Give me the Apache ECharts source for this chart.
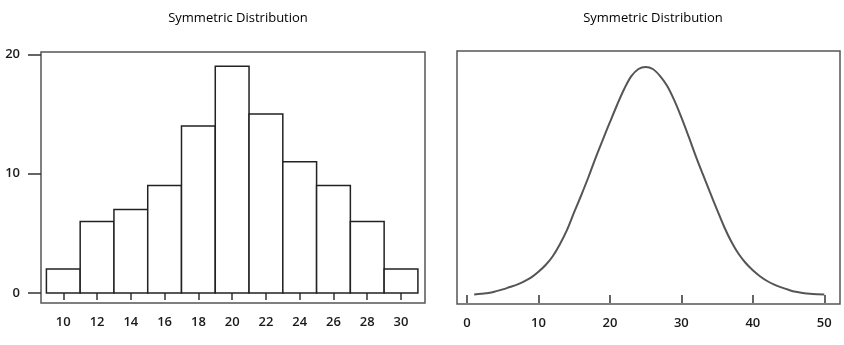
<!DOCTYPE html>
<html>
<head>
<meta charset="utf-8">
<script src="https://cdn.jsdelivr.net/npm/echarts@6/dist/echarts.min.js"></script>
<style>
html,body{margin:0;padding:0;background:#fff;}
#chart{width:844px;height:345px;}
</style>
</head>
<body>
<div id="chart"></div>
<script>
// ---- Data ----
const chartTitle = "Symmetric Distribution";
// Histogram (left)
const binCenters = [10, 12, 14, 16, 18, 20, 22, 24, 26, 28, 30];
const binCounts  = [2, 6, 7, 9, 14, 19, 15, 11, 9, 6, 2];
const binWidth = 2;
const histXTicks = [10, 12, 14, 16, 18, 20, 22, 24, 26, 28, 30];
const histYTicks = [0, 10, 20];
// Density curve (right)
const curveX = [1,2,3,4,5,6,7,8,9,10,11,12,13,14,15,16,17,18,19,20,21,22,23,24,25,
                26,27,28,29,30,31,32,33,34,35,36,37,38,39,40,41,42,43,44,45,46,47,48,49,50];
const curveY = [0.0001,0.0003,0.0005,0.0009,0.0014,0.0020,0.0026,0.0034,0.0044,0.0058,
                0.0075,0.0097,0.0127,0.0163,0.0207,0.0250,0.0295,0.0343,0.0388,0.0432,
                0.0475,0.0515,0.0547,0.0565,0.0570,0.0565,0.0548,0.0523,0.0487,0.0444,
                0.0397,0.0348,0.0302,0.0257,0.0213,0.0170,0.0133,0.0103,0.0080,0.0062,
                0.0047,0.0035,0.0026,0.0019,0.0013,0.0008,0.0005,0.0003,0.0002,0.00015];
const curveXTicks = [0, 10, 20, 30, 40, 50];

const chart = echarts.init(document.getElementById('chart'), null, {renderer: 'canvas'});
const labelFont = {fontFamily: 'Open Sans', fontSize: 13, fontWeight: 600, color: '#1a1a1a'};
const tickStyle = {color: '#333', width: 1.5};
const titleFont = {fontFamily: 'Open Sans', fontSize: 13, fontWeight: 'normal', color: '#000'};

chart.setOption({
  animation: false,
  backgroundColor: '#fff',
  title: [
    {text: chartTitle, left: 233, top: 7, textAlign: 'center', textStyle: titleFont},
    {text: chartTitle, left: 648, top: 7, textAlign: 'center', textStyle: titleFont}
  ],
  grid: [
    {left: 41, top: 52, width: 384, height: 251, show: true, borderColor: '#555', borderWidth: 1.5, backgroundColor: 'transparent'},
    {left: 457, top: 51, width: 383, height: 253, show: true, borderColor: '#555', borderWidth: 1.5, backgroundColor: 'transparent'}
  ],
  xAxis: [
    {gridIndex: 0, type: 'value', min: 8.68, max: 31.42,
     axisLine: {show: false}, splitLine: {show: false},
     axisTick: {show: true, length: 7, lineStyle: tickStyle, customValues: histXTicks},
     axisLabel: Object.assign({margin: 13, customValues: histXTicks}, labelFont)},
    {gridIndex: 1, type: 'value', min: -1.4, max: 52.2,
     axisLine: {show: false}, splitLine: {show: false},
     axisTick: {show: true, length: 8, lineStyle: tickStyle, customValues: curveXTicks},
     axisLabel: Object.assign({margin: 13, customValues: curveXTicks}, labelFont)}
  ],
  yAxis: [
    {gridIndex: 0, type: 'value', min: -0.84, max: 20.2,
     axisLine: {show: false}, splitLine: {show: false},
     axisTick: {show: true, length: 13, lineStyle: tickStyle, customValues: histYTicks},
     axisLabel: Object.assign({margin: 21, customValues: histYTicks}, labelFont)},
    {gridIndex: 1, type: 'value', min: -0.00225, max: 0.061, show: false,
     splitLine: {show: false}}
  ],
  series: [
    {type: 'custom', xAxisIndex: 0, yAxisIndex: 0,
     data: binCenters.map((c, i) => [c, binCounts[i]]),
     renderItem: function (params, api) {
       const c = api.value(0), v = api.value(1);
       const p0 = api.coord([c - binWidth / 2, v]);
       const p1 = api.coord([c + binWidth / 2, 0]);
       return {type: 'rect',
         shape: {x: p0[0], y: p0[1], width: p1[0] - p0[0], height: p1[1] - p0[1]},
         style: {fill: '#fff', stroke: '#222', lineWidth: 1.5}};
     }},
    {type: 'line', xAxisIndex: 1, yAxisIndex: 1, smooth: 0.35, showSymbol: false,
     data: curveX.map((x, i) => [x, curveY[i]]),
     lineStyle: {color: '#555', width: 2}}
  ]
});
</script>
</body>
</html>
